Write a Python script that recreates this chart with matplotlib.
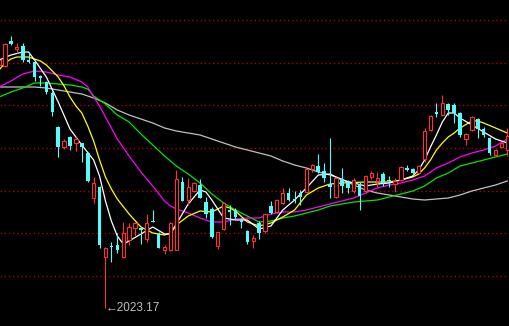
import matplotlib.pyplot as plt
import numpy as np

# K线数据 (开, 高, 低, 收)
opens = [2266, 2265, 2290, 2282, 2285, 2271, 2269, 2255, 2249, 2238,
         2204, 2184, 2194, 2188, 2188, 2178, 2133, 2144, 2074, 2085,
         2086, 2074, 2091, 2103, 2103, 2092, 2110, 2097, 2081, 2081,
         2081, 2149, 2131, 2140, 2146, 2129, 2122, 2085, 2102, 2121,
         2121, 2112, 2100, 2090, 2108, 2100, 2125, 2119, 2128, 2138,
         2132, 2138, 2139, 2162, 2165, 2160, 2147, 2134, 2152, 2149,
         2140, 2147, 2140, 2154, 2150, 2157, 2151, 2147, 2151, 2163,
         2162, 2158, 2172, 2201, 2219, 2216, 2227, 2226, 2218, 2192,
         2201, 2212, 2202, 2193, 2176, 2184, 2181]
highs = [2273, 2288, 2295, 2288, 2288, 2279, 2269, 2256, 2250, 2240,
         2205, 2192, 2195, 2194, 2188, 2179, 2154, 2145, 2084, 2089,
         2098, 2109, 2108, 2109, 2103, 2117, 2121, 2099, 2086, 2109,
         2161, 2154, 2153, 2149, 2152, 2134, 2124, 2099, 2129, 2126,
         2123, 2113, 2101, 2096, 2110, 2118, 2130, 2132, 2143, 2143,
         2140, 2141, 2163, 2167, 2177, 2168, 2193, 2154, 2163, 2151,
         2153, 2149, 2156, 2160, 2159, 2159, 2155, 2153, 2165, 2166,
         2163, 2166, 2203, 2216, 2228, 2236, 2228, 2228, 2219, 2198,
         2215, 2213, 2204, 2194, 2182, 2189, 2203]
lows = [2265, 2264, 2286, 2278, 2269, 2268, 2250, 2245, 2237, 2215,
        2174, 2182, 2181, 2180, 2169, 2149, 2128, 2083, 2023.17, 2069,
        2078, 2073, 2086, 2095, 2087, 2089, 2109, 2083, 2077, 2080,
        2081, 2130, 2126, 2139, 2133, 2113, 2093, 2082, 2101, 2106,
        2112, 2103, 2087, 2083, 2092, 2098, 2117, 2118, 2127, 2130,
        2128, 2126, 2139, 2159, 2158, 2149, 2133, 2133, 2138, 2138,
        2138, 2121, 2138, 2152, 2144, 2145, 2144, 2139, 2150, 2160,
        2157, 2157, 2169, 2200, 2214, 2215, 2216, 2208, 2194, 2186,
        2200, 2193, 2194, 2176, 2175, 2183, 2175]
closes = [2271, 2287, 2287, 2284, 2271, 2269, 2254, 2253, 2239, 2219,
          2184, 2190, 2185, 2192, 2184, 2150, 2148, 2086, 2083, 2084,
          2081, 2098, 2104, 2108, 2101, 2108, 2109, 2083, 2084, 2108,
          2152, 2130, 2144, 2148, 2133, 2117, 2094, 2099, 2128, 2119,
          2114, 2109, 2089, 2093, 2098, 2117, 2118, 2131, 2138, 2131,
          2130, 2134, 2162, 2166, 2159, 2153, 2144, 2153, 2145, 2143,
          2151, 2135, 2155, 2158, 2153, 2148, 2150, 2150, 2164, 2161,
          2158, 2165, 2200, 2215, 2217, 2228, 2221, 2218, 2196, 2197,
          2214, 2202, 2196, 2178, 2181, 2188, 2195]

# 均线 (读图取样: 位置, 数值)
ma5_x = [0, 2, 4, 5, 6, 8, 10, 12, 14, 16, 17, 18, 19, 20, 21, 22, 24, 26, 28, 29,
         30, 32, 34, 35, 36, 38, 40, 42, 44, 46, 48, 50, 52, 54, 56, 58, 60, 62, 64,
         66, 68, 70, 71, 72, 73, 74, 75, 76, 77, 78, 80, 82, 84, 86]
ma5_y = [2271, 2276, 2279, 2279, 2271, 2254, 2229, 2202, 2186, 2171, 2155, 2130, 2110,
         2095, 2087, 2090, 2097, 2104, 2097, 2097, 2107, 2127, 2141, 2139, 2131, 2113,
         2111, 2111, 2102, 2105, 2121, 2131, 2143, 2156, 2157, 2151, 2148, 2145, 2147,
         2148, 2151, 2155, 2161, 2171, 2184, 2196, 2209, 2218, 2218, 2213, 2206, 2199,
         2192, 2188]

ma10_x = [0, 1, 2, 3, 5, 6, 7, 8, 9, 10, 11, 12, 13, 14, 15, 16, 17, 18, 19, 20, 22,
          24, 26, 28, 29, 30, 32, 34, 36, 38, 39, 40, 42, 44, 46, 48, 50, 52, 54, 56,
          58, 62, 66, 68, 70, 71, 72, 73, 74, 75, 76, 77, 78, 80, 81, 82, 84, 86]
ma10_y = [2261, 2268, 2272, 2274, 2274, 2272, 2270, 2266, 2260, 2254, 2245, 2234, 2225,
          2218, 2205, 2190, 2171, 2154, 2142, 2132, 2117, 2104, 2098, 2096, 2098, 2106,
          2115, 2120, 2119, 2125, 2123, 2120, 2109, 2105, 2108, 2114, 2121, 2136, 2143,
          2147, 2148, 2149, 2149, 2151, 2154, 2157, 2163, 2171, 2181, 2188, 2194, 2198,
          2203, 2210, 2210, 2208, 2203, 2198]

ma20_x = [0, 2, 4, 6, 8, 10, 12, 14, 15, 16, 17, 18, 20, 22, 24, 26, 28, 29, 30, 32,
          34, 36, 38, 40, 42, 44, 46, 48, 50, 52, 54, 56, 58, 60, 62, 64, 66, 68, 70,
          72, 74, 76, 78, 80, 82, 84, 86]
ma20_y = [2244, 2250, 2257, 2260, 2259, 2256, 2254, 2249, 2244, 2234, 2225, 2214, 2192,
          2175, 2159, 2145, 2130, 2125, 2122, 2118, 2113, 2109, 2109, 2112, 2113, 2113,
          2117, 2119, 2119, 2121, 2124, 2127, 2130, 2133, 2138, 2143, 2146, 2148, 2151,
          2155, 2163, 2168, 2174, 2178, 2181, 2185, 2192]

ma30_x = [0, 2, 4, 6, 8, 10, 12, 14, 15, 16, 17, 18, 20, 22, 24, 26, 28, 30, 32, 34,
          36, 38, 40, 42, 44, 46, 48, 50, 52, 54, 56, 58, 60, 62, 64, 66, 68, 70, 72,
          74, 76, 78, 80, 82, 84, 86]
ma30_y = [2234, 2239, 2243, 2248, 2248, 2247, 2246, 2244, 2242, 2235, 2231, 2227, 2216,
          2209, 2197, 2186, 2175, 2165, 2157, 2148, 2137, 2128, 2121, 2115, 2109, 2110,
          2113, 2115, 2118, 2121, 2125, 2127, 2129, 2130, 2131, 2134, 2137, 2140, 2145,
          2153, 2158, 2165, 2168, 2171, 2174, 2177]

ma60_x = [0, 4, 6, 8, 10, 12, 14, 16, 18, 20, 22, 24, 26, 28, 30, 32, 34, 36, 38, 40,
          42, 44, 46, 48, 50, 52, 54, 56, 58, 60, 62, 64, 66, 68, 70, 72, 74, 76, 78,
          80, 82, 84, 86]
ma60_y = [2244, 2244, 2244, 2243, 2241, 2239, 2237, 2233, 2228, 2221, 2216, 2212, 2208,
          2203, 2200, 2198, 2196, 2192, 2188, 2184, 2181, 2178, 2175, 2170, 2166, 2163,
          2159, 2156, 2152, 2146, 2141, 2138, 2136, 2134, 2132, 2131, 2132, 2133, 2136,
          2140, 2143, 2146, 2150]

grid_levels = [2311, 2268.3, 2225.6, 2183, 2140.3, 2097.6, 2054.9]

RED = '#ff3232'
CYAN = '#54fcfc'

o = np.array(opens, dtype=float)
h = np.array(highs, dtype=float)
l = np.array(lows, dtype=float)
c = np.array(closes, dtype=float)
idx = np.arange(len(o))
up = c >= o
dn = ~up

fig = plt.figure(figsize=(5.1, 3.26), dpi=100, facecolor='black')
ax = fig.add_axes([0, 0, 1, 1])
ax.set_facecolor('black')

# 网格
for g in grid_levels:
    ax.axhline(g, color='#b00000', lw=1, ls=(0, (1, 2)), zorder=0)

# 均线
ax.plot(ma60_x, ma60_y, color='#c0c0c0', lw=0.9, zorder=1)
ax.plot(ma30_x, ma30_y, color='#00e600', lw=0.9, zorder=1)
ax.plot(ma20_x, ma20_y, color='#ff00ff', lw=0.9, zorder=1)
ax.plot(ma10_x, ma10_y, color='#ffff00', lw=0.9, zorder=1)
ax.plot(ma5_x, ma5_y, color='white', lw=0.9, zorder=1)

# 阴线
ax.vlines(idx[dn], l[dn], h[dn], color=CYAN, lw=0.8, zorder=2)
ax.bar(idx[dn], np.maximum(o[dn] - c[dn], 0.8), bottom=c[dn], width=0.6,
       color=CYAN, lw=0, zorder=3)

# 阳线 (空心)
ax.vlines(idx[up], c[up], h[up], color=RED, lw=0.8, zorder=2)
ax.vlines(idx[up], l[up], o[up], color=RED, lw=0.8, zorder=2)
ax.bar(idx[up], np.maximum(c[up] - o[up], 0.8), bottom=o[up], width=0.55,
       facecolor='black', edgecolor=RED, lw=0.8, zorder=3)

# 最低价标注
i_low = int(np.argmin(l))
ax.text(i_low + 0.1, l[i_low], '\u2190' + f'{l[i_low]:.2f}', color='#c0c0c0',
        fontsize=8.5, ha='left', va='center',
        family=['Liberation Sans', 'DejaVu Sans'], zorder=4)

ax.set_xlim(0.154, 86.45)
ax.set_ylim(2005, 2331)
ax.axis('off')

plt.savefig('out.png', dpi=100, facecolor='black')
